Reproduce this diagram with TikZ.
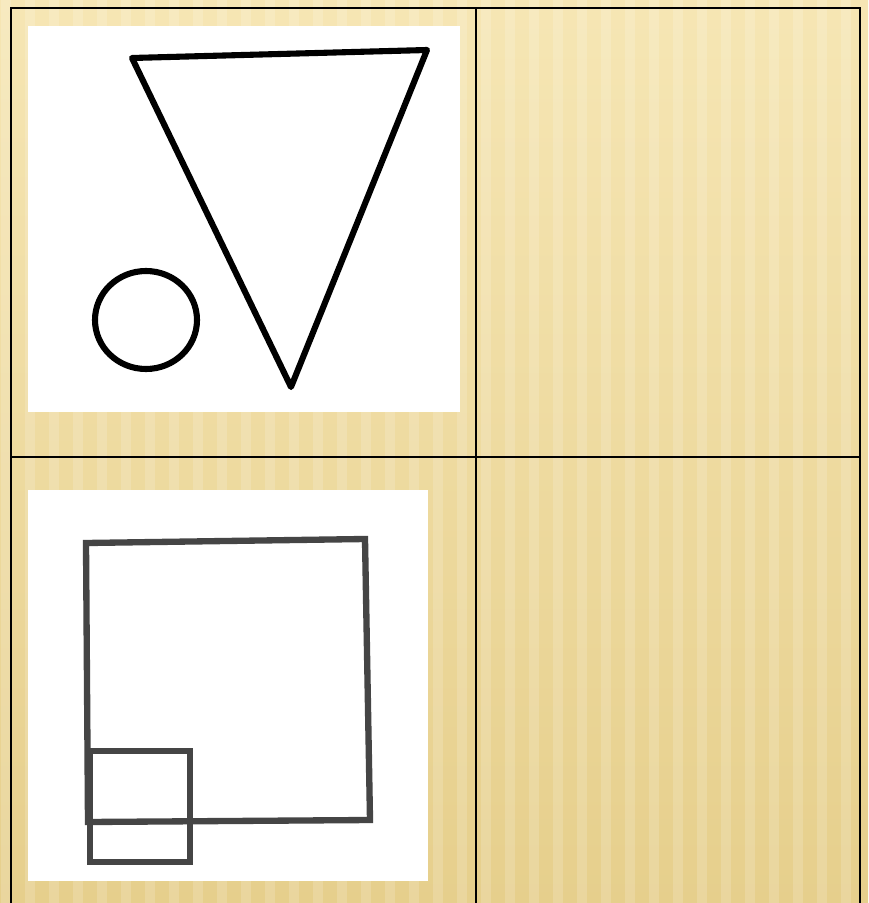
\documentclass[tikz,border=0pt]{standalone}
\usepackage{tikz}
\usetikzlibrary{positioning}

\definecolor{bgtop}{HTML}{F6E6B4}
\definecolor{bgbot}{HTML}{E6CF8C}
\definecolor{inkgrey}{HTML}{454545}

\begin{document}
\begin{tikzpicture}[
      x=0.03cm, y=-0.03cm,
      gridline/.style={draw=black, line width=2.2pt},
      panel/.style={fill=white, draw=none},
      sketch/.style={draw=black, line width=5.2pt, line join=round},
      greysketch/.style={draw=inkgrey, line width=5.4pt, line join=miter},
      stripe/.style={draw=white, opacity=0.16, line width=9pt}
    ]

      \useasboundingbox (0,0) rectangle (868,903);
      \shade[top color=bgtop, bottom color=bgbot] (0,0) rectangle (868,903);
      \foreach \sx in {6,30,...,868}
        \draw[stripe] (\sx,0) -- (\sx,903);

      % table
      \draw[gridline] (11,903) -- (11,8) -- (860,8) -- (860,903);
      \draw[gridline] (476,8) -- (476,903);
      \draw[gridline] (11,457) -- (860,457);

      % top left picture
      \fill[panel] (28,26) rectangle (460,412);
      \draw[sketch] (132,58) -- (427,50) -- (291,387) -- cycle;
      \draw[sketch] (146,320) ellipse [x radius=51, y radius=49];

      % bottom left picture
      \fill[panel] (28,490) rectangle (428,881);
      \draw[greysketch] (86,543) -- (365,539) -- (370,820) -- (88,822) -- cycle;
      \draw[greysketch] (90,751) rectangle (190,862);

    \end{tikzpicture}
\end{document}
